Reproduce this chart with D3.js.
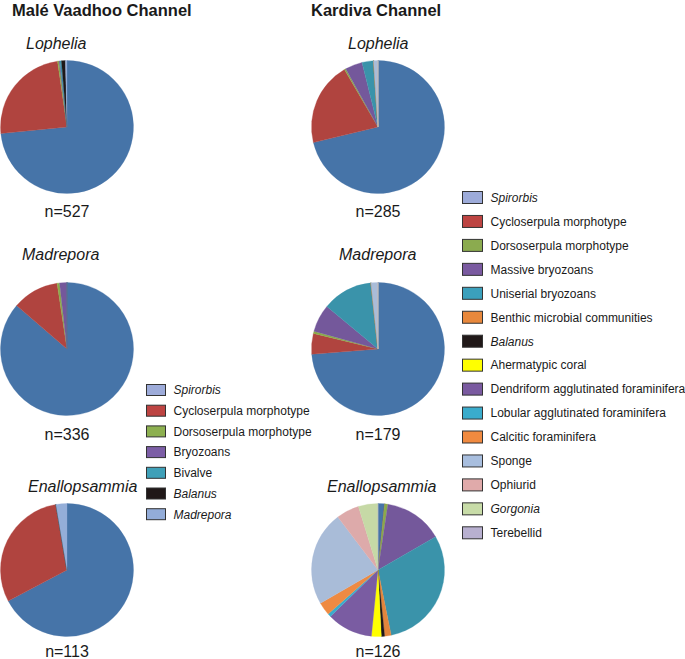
<!DOCTYPE html>
<html><head><meta charset="utf-8">
<script src="https://cdn.jsdelivr.net/npm/d3@7"></script>
<style>
body{margin:0;background:#fff;}
svg{display:block;font-family:"Liberation Sans",Arial,sans-serif;}
</style></head>
<body><svg id="c" width="685" height="659"></svg>
<script>
// ---------- DATA ----------
const channels = ["Malé Vaadhoo Channel", "Kardiva Channel"];
const corals = ["Lophelia", "Madrepora", "Enallopsammia"];

const maleCategories = ["Spirorbis","Cycloserpula morphotype","Dorsoserpula morphotype","Bryozoans","Bivalve","Balanus","Madrepora"];
const maleItalic = [true,false,false,false,false,true,true];
const maleSliceColors = ["#4674a8","#b0443f","#8aab4a","#74589b","#3a93aa","#1e1818","#94aed8"];
const maleSwatchColors = ["#9dabd9","#bd4442","#8db050","#7c5ea6","#3fa0b8","#201818","#93acd8"];
const maleLophelia = [387,128,2,1,2,5,2];
const maleMadrepora = [290,38,2,6,0,0,0];
const maleEnallopsammia = [76,34,0,0,0,0,3];
const maleN = [527,336,113];

const kardivaCategories = ["Spirorbis","Cycloserpula morphotype","Dorsoserpula morphotype","Massive bryozoans","Uniserial bryozoans","Benthic microbial communities","Balanus","Ahermatypic coral","Dendriform agglutinated foraminifera","Lobular agglutinated foraminifera","Calcitic foraminifera","Sponge","Ophiurid","Gorgonia","Terebellid"];
const kardivaItalic = [true,false,false,false,false,false,true,false,false,false,false,false,false,true,false];
const kardivaSliceColors = ["#4674a8","#b0443f","#8aab4a","#74589b","#3a93aa","#e2853c","#1e1818","#ffff00","#7a5ca2","#3aaccc","#ee8a42","#a9bcd8","#ddaaaa","#c6d9a6","#b8b0d0"];
const kardivaSwatchColors = ["#9dabd9","#bd4442","#8bab4f","#7a5aa0","#3ba0bc","#e8883c","#201818","#ffff00","#7a5aa0","#3aaccc","#f08a40","#a8bede","#e0aaaa","#c8dca8","#b8b0d0"];
const kardivaLophelia = [203,58,1,12,8,0,0,0,0,0,0,3,0,0,0];
const kardivaMadrepora = [132,9,1,12,22,0,0,0,0,0,0,3,0,0,0];
const kardivaEnallopsammia = [2,0,1,18,38,2,1,3,14,1,4,29,7,6,0];
const kardivaN = [285,179,126];

// ---------- LAYOUT ----------
const svg = d3.select("#c");
const colX = [67, 378];
const rowY = [127, 349, 570];
const R = 66.5;
const textColor = "#1a1a1a";

svg.append("text").attr("x", 12).attr("y", 16).attr("font-size", 16.5).attr("font-weight", "bold").attr("fill", textColor).text(channels[0]);
svg.append("text").attr("x", 311).attr("y", 16).attr("font-size", 16.5).attr("font-weight", "bold").attr("fill", textColor).text(channels[1]);

const pie = d3.pie().sort(null).value(d => d);
const arc = d3.arc().innerRadius(0).outerRadius(R);

function drawPie(values, colors, cx, cy) {
  const g = svg.append("g").attr("transform", `translate(${cx},${cy})`);
  g.selectAll("path").data(pie(values)).join("path")
    .attr("d", arc)
    .attr("fill", (d, i) => colors[i])
    .attr("stroke", (d, i) => colors[i])
    .attr("stroke-width", 0.3);
}

const maleData = [maleLophelia, maleMadrepora, maleEnallopsammia];
const kardivaData = [kardivaLophelia, kardivaMadrepora, kardivaEnallopsammia];
const labelX = [[26, 22, 28], [348, 339, 327]];
const labelY = [49, 260, 492];
const nY = [217, 440, 657];

corals.forEach((c, i) => {
  drawPie(maleData[i], maleSliceColors, colX[0], rowY[i]);
  drawPie(kardivaData[i], kardivaSliceColors, colX[1], rowY[i]);
  [0, 1].forEach(k => {
    svg.append("text").attr("x", labelX[k][i]).attr("y", labelY[i])
      .attr("font-size", 16).attr("font-style", "italic").attr("fill", textColor).text(c);
    const n = k === 0 ? maleN[i] : kardivaN[i];
    svg.append("text").attr("x", colX[k]).attr("y", nY[i]).attr("text-anchor", "middle")
      .attr("font-size", 16).attr("fill", textColor).text("n=" + n);
  });
});

function drawLegend(cats, italics, colors, x, y0, step, sw, sh) {
  const g = svg.append("g");
  const rows = g.selectAll("g").data(cats).join("g")
    .attr("transform", (d, i) => `translate(${x},${y0 + i * step})`);
  rows.append("rect").attr("x", 0).attr("y", -sh / 2).attr("width", sw).attr("height", sh)
    .attr("fill", (d, i) => colors[i]).attr("stroke", "#333").attr("stroke-width", 1);
  rows.append("text").attr("x", sw + 8).attr("y", 0).attr("dy", "0.36em")
    .attr("font-size", 12).attr("fill", textColor)
    .attr("font-style", (d, i) => italics[i] ? "italic" : "normal").text(d => d);
}

drawLegend(maleCategories, maleItalic, maleSwatchColors, 146.5, 390, 20.7, 19, 11);
drawLegend(kardivaCategories, kardivaItalic, kardivaSwatchColors, 462.5, 197.5, 23.95, 20, 12);
</script></body></html>
